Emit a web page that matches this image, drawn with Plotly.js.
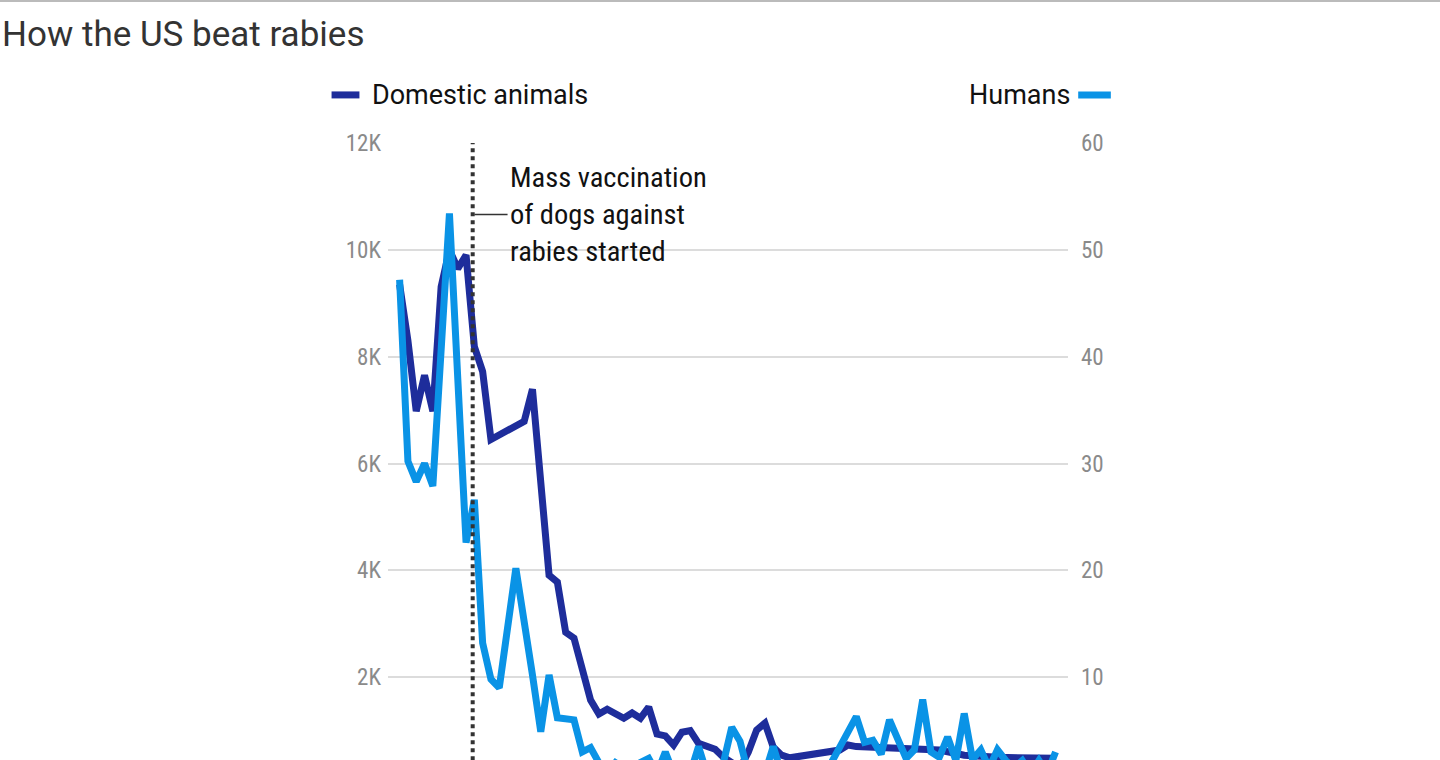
<!DOCTYPE html>
<html><head><meta charset="utf-8">
<script src="https://cdn.plot.ly/plotly-3.0.1.min.js"></script>
<style>html,body{margin:0;padding:0;overflow:hidden;background:#fff}#c{width:1440px;height:900px}</style>
</head><body><div id="c"></div>
<script>
const domYears = [1938,1939,1940,1941,1942,1943,1944,1945,1946,1947,1948,1949,1953,1954,1956,1957,1958,1959,1961,1962,1963,1965,1966,1967,1968,1969,1970,1971,1972,1973,1974,1975,1976,1977,1978,1979,1980,1981,1982,1983,1984,1985,1991,1992,1993,2003,2006,2010,2017];
const domValues = [9350,8300,6980,7650,6980,9310,10000,9650,9900,8190,7720,6450,6790,7390,3910,3780,2840,2730,1570,1310,1400,1230,1330,1230,1440,935,900,730,970,1000,760,700,650,500,400,300,600,1010,1140,690,540,490,635,730,700,635,540,500,480];
const humYears = [1938,1939,1940,1941,1942,1944,1946,1947,1948,1949,1950,1952,1954,1955,1956,1957,1959,1960,1961,1962,1963,1964,1965,1966,1967,1968,1969,1970,1971,1972,1973,1974,1975,1976,1977,1978,1979,1980,1981,1982,1983,1984,1985,1986,1987,1988,1989,1990,1991,1993,1994,1995,1996,1997,1999,2000,2001,2002,2003,2004,2005,2006,2007,2008,2009,2010,2011,2012,2013,2014,2015,2016,2017];
const humValues = [47.2,30.2,28.3,30,27.9,53.4,22.6,26.6,13.2,9.8,9,20.2,10.2,4.9,10.2,6.2,6,3,3.4,2,1,2,1.5,1,2,2.4,1,3,1,1.5,1,3.5,1,1,2,5.3,4,1,1.5,1,3.5,1,1,1.5,1,1,1,2,3.5,6.3,3.9,4.1,2.8,6,2.4,3.2,7.9,3,2.5,4.4,2.2,6.6,2.3,3.2,1.5,3.2,2.2,1.5,2.2,1,2.2,1,3];
const leftTicks = [2000,4000,6000,8000,10000,12000];
const leftLabels = ['2K','4K','6K','8K','10K','12K'];
const rightTicks = [10,20,30,40,50,60];
const vaccYear = 1946.8;
const cond = '"Liberation Sans Narrow", "Roboto Condensed", Roboto, sans-serif';
const traces = [
 {x:domYears,y:domValues,type:'scatter',mode:'lines',line:{color:'#1e2d9b',width:7},yaxis:'y',hoverinfo:'skip'},
 {x:humYears,y:humValues,type:'scatter',mode:'lines',line:{color:'#0a93e6',width:7},yaxis:'y2',hoverinfo:'skip'}
];
const layout = {
 width:1440,height:900,showlegend:false,paper_bgcolor:'#fff',plot_bgcolor:'#fff',
 margin:{l:388,r:372,t:143,b:116},
 title:{text:'How the US beat rabies',x:0.0014,xanchor:'left',y:0.963,yanchor:'middle',font:{family:'Roboto, sans-serif',size:35,color:'#333'}},
 xaxis:{range:[1936.6,2018.5],visible:false,showgrid:false,zeroline:false},
 yaxis:{range:[0,12000],tickvals:leftTicks,ticktext:leftLabels,showgrid:true,gridcolor:'#dcdcdc',gridwidth:2,zeroline:false,ticks:'',ticklabelstandoff:6,tickfont:{family:cond,size:23,color:'#8a8a8a'},showline:false},
 yaxis2:{range:[0,60],overlaying:'y',side:'right',tickvals:rightTicks,showgrid:false,zeroline:false,ticklabelstandoff:12,tickfont:{family:cond,size:23,color:'#8a8a8a'}},
 shapes:[
  {type:'line',xref:'paper',yref:'paper',x0:-1,x1:2,y0:1.2215,y1:1.2215,line:{color:'#bbb',width:2}},
  {type:'line',xref:'x',yref:'paper',x0:vaccYear,x1:vaccYear,y0:-0.2,y1:1.0,line:{color:'#333',width:4,dash:'dot'}},
  {type:'line',xref:'x',yref:'y',x0:vaccYear+0.2,x1:1951,y0:10660,y1:10660,line:{color:'#333',width:1.5}},
  {type:'line',xref:'paper',yref:'paper',x0:-0.083,x1:-0.042,y0:1.075,y1:1.075,line:{color:'#1e2d9b',width:7}},
  {type:'line',xref:'paper',yref:'paper',x0:1.015,x1:1.063,y0:1.075,y1:1.075,line:{color:'#0a93e6',width:7}}
 ],
 annotations:[
  {xref:'x',yref:'y',x:1951.1,y:10660,xanchor:'left',yanchor:'middle',align:'left',showarrow:false,
   text:'Mass vaccination<br>of dogs against<br>rabies started',font:{family:cond,size:28.5,color:'#111'}},
  {xref:'paper',yref:'paper',x:-0.026,y:1.075,xanchor:'left',yanchor:'middle',showarrow:false,text:'Domestic animals',font:{family:'Roboto, sans-serif',size:27,color:'#111'}},
  {xref:'paper',yref:'paper',x:1.006,y:1.075,xanchor:'right',yanchor:'middle',showarrow:false,text:'Humans',font:{family:'Roboto, sans-serif',size:27,color:'#111'}}
 ]
};
Plotly.newPlot('c',traces,layout,{displayModeBar:false,staticPlot:true});
</script></body></html>
